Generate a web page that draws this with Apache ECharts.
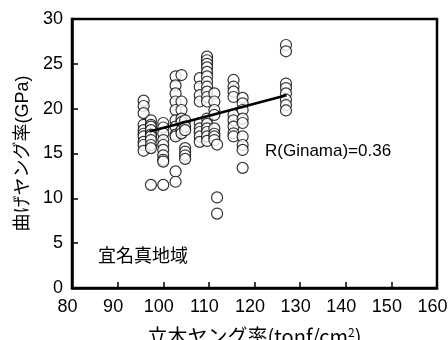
<!DOCTYPE html>
<html>
<head>
<meta charset="utf-8">
<script src="https://cdn.jsdelivr.net/npm/echarts@6/dist/echarts.min.js"></script>
<style>html,body{margin:0;padding:0;background:#fff}#c{width:448px;height:340px}</style>
</head>
<body>
<div id="c"></div>
<script>
// Column x positions (立木ヤング率) and their y values (曲げヤング率)
var columnX = [95.7, 97.3, 100.0, 102.7, 104.0, 104.8, 108.0, 109.6, 111.2, 111.8, 115.4, 117.4, 126.9];
var columnY = [
  [20.9, 20.3, 19.5, 18.2, 17.6, 17.2, 16.9, 16.3, 15.95, 15.3],
  [18.7, 18.2, 18.0, 17.6, 17.1, 16.9, 16.5, 15.95, 15.6, 11.5],
  [18.4, 17.9, 17.25, 16.5, 15.95, 15.4, 14.8, 14.3, 14.1, 11.5],
  [23.6, 22.6, 21.7, 20.8, 19.85, 18.7, 18.0, 17.1, 16.9, 13.0, 11.85],
  [23.75, 20.8, 19.85, 18.9, 18.5, 17.6, 17.25],
  [18.7, 18.0, 17.6, 15.6, 15.2, 14.8, 14.4],
  [23.4, 22.45, 21.5, 20.8, 18.4, 17.8, 17.4, 16.9, 16.3],
  [25.8, 25.4, 25.0, 24.6, 24.1, 23.6, 23.0, 22.45, 21.9, 21.3, 20.8, 18.9, 18.3, 17.8, 17.4, 16.9, 16.4],
  [21.7, 20.8, 19.85, 19.3, 17.8, 17.2, 16.9, 16.5],
  [16.0, 10.1, 8.3],
  [23.2, 22.45, 21.9, 21.3, 19.3, 18.7, 18.0, 17.25, 16.9],
  [21.2, 20.6, 19.85, 18.9, 18.4, 16.9, 15.95, 15.4, 13.4],
  [27.1, 26.4, 22.8, 22.3, 21.7, 21.0, 20.4, 19.8]
];
// Regression line endpoints
var fitX = [97.0, 127.0];
var fitY = [17.45, 21.5];
var xTicks = [80, 160, 10];
var yTicks = [0, 30, 5];
var annotR = 'R(Ginama)=0.36';
var annotRegion = '宜名真地域';
var xName = '立木ヤング率(tonf/cm{sup|2})';
var yName = '曲げヤング率(GPa)';

var pts = [];
columnX.forEach(function (x, i) { columnY[i].forEach(function (y) { pts.push([x, y]); }); });
var fit = fitX.map(function (x, i) { return [x, fitY[i]]; });

var FONT = '"Liberation Sans", "Noto Sans CJK JP", sans-serif';
var CJK = '"Noto Sans CJK JP", sans-serif';
var chart = echarts.init(document.getElementById('c'), null, {renderer: 'canvas'});
var axisCommon = {
  axisLine: {show: true, lineStyle: {color: '#000', width: 2.5}},
  axisTick: {show: true, inside: true, length: 6, lineStyle: {color: '#000', width: 1.5}},
  splitLine: {show: false}
};
chart.setOption({
  animation: false,
  backgroundColor: '#fff',
  grid: {left: 72, top: 19, right: 11, bottom: 52, show: true, borderColor: '#000', borderWidth: 2.5,
         containLabel: false, outerBoundsMode: 'none'},
  xAxis: Object.assign({
    type: 'value', min: xTicks[0], max: xTicks[1], interval: xTicks[2],
    name: xName, nameLocation: 'middle', nameGap: 38,
    nameTextStyle: {color: '#000', fontSize: 20, fontFamily: CJK, rich: {sup: {fontSize: 12, verticalAlign: 'top', padding: [0, 0, 9, 0], color: '#000', fontFamily: CJK}}}
  }, axisCommon, {axisLabel: {color: '#000', fontSize: 18, fontFamily: FONT, margin: 10, padding: [0, 9, 0, 0]}}),
  yAxis: Object.assign({
    type: 'value', min: yTicks[0], max: yTicks[1], interval: yTicks[2],
    name: yName, nameLocation: 'middle', nameGap: 39,
    nameTextStyle: {color: '#000', fontSize: 18, fontFamily: FONT}
  }, axisCommon, {axisLabel: {color: '#000', fontSize: 18, fontFamily: FONT, margin: 9}}),
  graphic: [
    {type: 'text', left: 265, top: 143, style: {text: annotR, fill: '#000', font: '17px ' + FONT}},
    {type: 'text', left: 98, top: 248, style: {text: annotRegion, fill: '#000', font: '18px ' + FONT}}
  ],
  series: [
    {type: 'scatter', data: pts, symbol: 'circle', symbolSize: 11,
     itemStyle: {color: '#fff', borderColor: '#000', borderWidth: 1.2}, z: 2},
    {type: 'line', data: fit, showSymbol: false, symbol: 'none',
     lineStyle: {color: '#000', width: 2.5}, z: 3}
  ]
});
</script>
</body>
</html>
